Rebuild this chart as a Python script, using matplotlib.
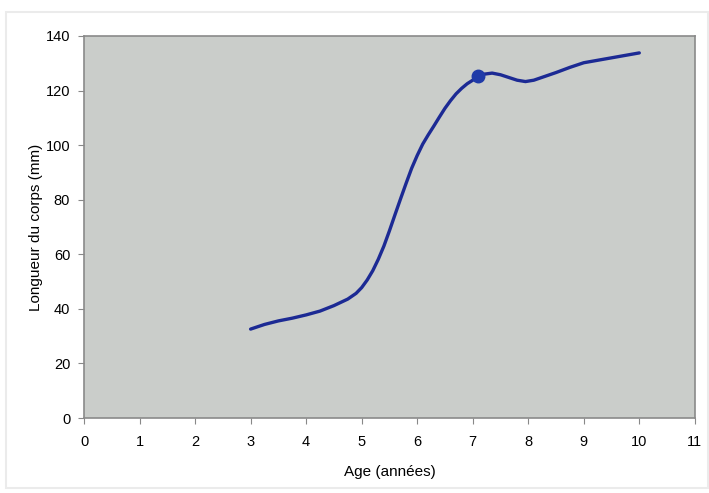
import matplotlib
matplotlib.use('Agg')
import matplotlib.pyplot as plt
from matplotlib.patches import Rectangle

# values
age = [3.0, 3.25, 3.5, 3.75, 4.0, 4.25, 4.5, 4.75, 4.9, 5.0, 5.1, 5.2, 5.3, 5.4, 5.5,
       5.6, 5.7, 5.8, 5.9, 6.0, 6.1, 6.2, 6.3, 6.4, 6.5, 6.6, 6.7, 6.8, 6.9, 7.0,
       7.1, 7.2, 7.35, 7.5, 7.65, 7.8, 7.95, 8.1, 8.3, 8.5, 8.75, 9.0, 9.25, 9.5,
       9.75, 10.0]
length = [32.6, 34.3, 35.6, 36.6, 37.8, 39.2, 41.2, 43.6, 45.7, 47.8, 50.6, 54.0, 58.2, 63, 68.6,
          74.5, 80.3, 86, 91.5, 96.2, 100.4, 103.8, 107, 110.3, 113.5, 116.3, 118.8, 120.8, 122.5, 123.8,
          125.2, 126, 126.4, 125.8, 124.8, 123.8, 123.3, 123.8, 125.2, 126.6, 128.5, 130.2, 131.1, 132,
          132.9, 133.8]
point_age = [7.1]
point_length = [125.5]

plt.rcParams['font.family'] = ['Liberation Sans', 'DejaVu Sans']

fig = plt.figure(figsize=(7.09, 4.93), dpi=100)
# faint outer frame of the chart
fig.patches.append(Rectangle((0.008, 0.01), 0.99, 0.965, transform=fig.transFigure,
                             fill=False, edgecolor='#ebebeb', linewidth=1.5))

ax = fig.add_axes([0.1185, 0.152, 0.8615, 0.775])
ax.set_facecolor('#cacdca')

ax.plot(age, length, color='#1c2a94', linewidth=2.4, solid_capstyle='round',
        solid_joinstyle='round')
ax.plot(point_age, point_length, 'o', color='#1f3aa8', markersize=9)

ax.set_xlim(0, 11)
ax.set_ylim(0, 140)
ax.set_xticks(range(0, 12))
ax.set_yticks(range(0, 141, 20))
ax.tick_params(labelsize=10.5, length=4, color='#888888', direction='out')
ax.tick_params(axis='x', pad=8)
ax.tick_params(axis='y', pad=6)

for s in ax.spines.values():
    s.set_color('#8a8a8a')
    s.set_linewidth(1.2)

ax.set_xlabel("Age (années)", fontsize=11, labelpad=12)
ax.set_ylabel("Longueur du corps (mm)", fontsize=11, labelpad=2)

fig.savefig('out.png', dpi=100)
